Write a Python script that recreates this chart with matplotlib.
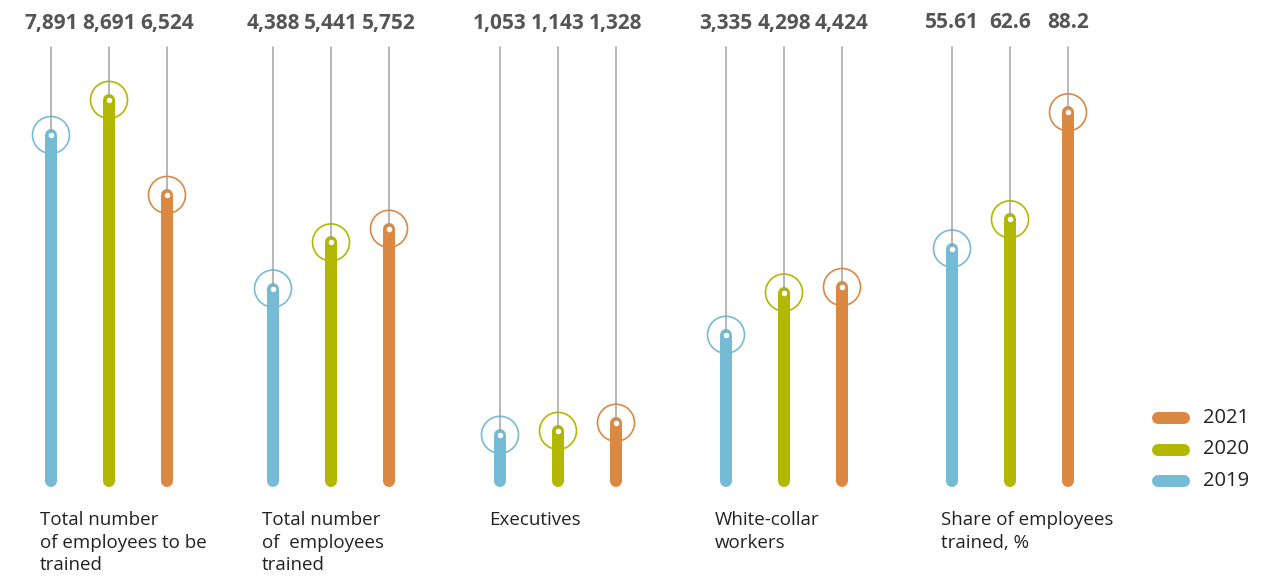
import matplotlib
matplotlib.use("Agg")
import matplotlib.pyplot as plt
from matplotlib.transforms import blended_transform_factory
from matplotlib.lines import Line2D

# ---- data ----
categories = ["Total number\nof employees to be\ntrained",
              "Total number\nof  employees\ntrained",
              "Executives",
              "White-collar\nworkers",
              "Share of employees\ntrained, %"]
years = ["2019", "2020", "2021"]
values_2019 = [7891, 4388, 1053, 3335, 55.61]
values_2020 = [8691, 5441, 1143, 4298, 62.6]
values_2021 = [6524, 5752, 1328, 4424, 88.2]
value_labels = [["7,891", "8,691", "6,524"],
                ["4,388", "5,441", "5,752"],
                ["1,053", "1,143", "1,328"],
                ["3,335", "4,298", "4,424"],
                ["55.61", "62.6", "88.2"]]
percent_group = 4  # last group uses its own (percent) scale

colors = {"2019": "#76BBD6", "2020": "#B2B800", "2021": "#DB8843"}

W, H = 1278, 577
DPI = 100
fig = plt.figure(figsize=(W / DPI, H / DPI), dpi=DPI)
fig.patch.set_facecolor("white")

ax = fig.add_axes([0, 0, 1, 1])      # counts scale
axp = fig.add_axes([0, 0, 1, 1])     # percent scale
for a in (ax, axp):
    a.set_xlim(0, W)
    a.axis("off")
    a.patch.set_alpha(0)

base_px = 96  # baseline height in pixels from bottom
cnt_scale = 0.04385   # px per unit
pct_scale = 4.18
ax.set_ylim(-base_px / cnt_scale, (H - base_px) / cnt_scale)
axp.set_ylim(-base_px / pct_scale, (H - base_px) / pct_scale)

group_x = [51, 273, 500, 726, 952]
bar_gap = 58
px2pt = 72 / DPI

series = [values_2019, values_2020, values_2021]

for g in range(len(categories)):
    a = axp if g == percent_group else ax
    trans = blended_transform_factory(a.transData, a.transAxes)
    for j, yr in enumerate(years):
        v = series[j][g]
        x = group_x[g] + j * bar_gap
        c = colors[yr]
        # halo circle
        a.scatter([x], [v], s=(37 * px2pt) ** 2, facecolors="none",
                  edgecolors=c, linewidths=1.2, zorder=2)
        # bar
        a.plot([x, x], [0, v], color=c, lw=12 * px2pt,
               solid_capstyle="round", zorder=3)
        # leader line
        a.annotate("", xy=(x, v), xycoords="data",
                   xytext=(x, 1 - 47 / H), textcoords=trans,
                   arrowprops=dict(arrowstyle="-", color="#9a9a9a", lw=1.0,
                                   shrinkA=0, shrinkB=0), zorder=4)
        # white dot
        a.scatter([x], [v], s=(5.5 * px2pt) ** 2, color="white", zorder=5,
                  linewidths=0)
        # value label
        a.text(x, 1 - 23 / H, value_labels[g][j], transform=trans,
               ha="center", va="center", fontsize=15, fontweight="bold",
               family="Open Sans", color="#555555")
    # category label
    ax.text(group_x[g] - 11, 1 - 511 / H, categories[g],
            transform=blended_transform_factory(ax.transData, ax.transAxes),
            ha="left", va="top", fontsize=13.5, family="Open Sans",
            color="#222222", linespacing=1.33)

# legend
for i, yr in enumerate(["2021", "2020", "2019"]):
    yy = 1 - (418 + i * 31.5) / H
    fig.add_artist(Line2D([1158 / W, 1184 / W], [yy, yy], color=colors[yr],
                          lw=12 * px2pt, solid_capstyle="round",
                          transform=fig.transFigure))
    fig.text(1203 / W, yy, yr, ha="left", va="center", fontsize=14.5,
             family="Open Sans", color="#222222")

fig.savefig("out.png", dpi=DPI, facecolor="white")
